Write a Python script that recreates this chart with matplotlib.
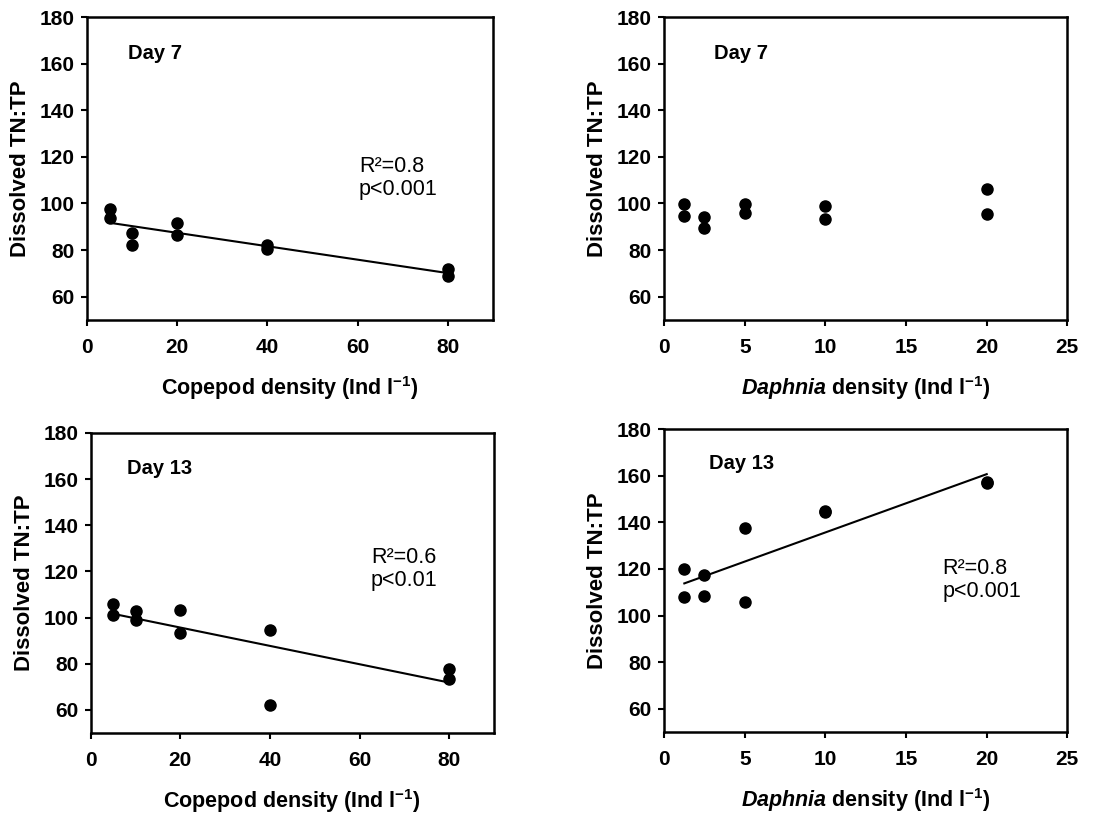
import numpy as np
import matplotlib
matplotlib.use('Agg')
import matplotlib.pyplot as plt

plt.rcParams['font.family'] = ['Liberation Sans', 'DejaVu Sans']
plt.rcParams['mathtext.fontset'] = 'custom'
plt.rcParams['mathtext.rm'] = 'Liberation Sans:bold'
plt.rcParams['mathtext.bf'] = 'Liberation Sans:bold'
plt.rcParams['mathtext.it'] = 'Liberation Sans:bold:italic'

# copepod density treatments (two replicates each)
cop_x = [5, 5, 10, 10, 20, 20, 40, 40, 80, 80]
cop_day7 = [97.6, 93.9, 87.1, 82.3, 91.7, 86.4, 82.1, 80.4, 71.7, 68.9]
cop_day13 = [106.0, 101.0, 102.7, 98.9, 103.3, 93.3, 94.6, 62.1, 77.7, 73.6]

# daphnia density treatments
daph_x = [1.25, 1.25, 2.5, 2.5, 5, 5, 10, 10, 20, 20]
daph_day7 = [99.6, 94.6, 94.3, 89.3, 99.6, 95.7, 98.9, 93.3, 106.3, 95.4]
daph_day13 = [119.9, 107.9, 117.4, 108.6, 137.6, 106.0, 144.3, 144.7, 157.0, 157.3]

cop_label = r'Copepod density (Ind l$^{\mathbf{-1}}$)'
daph_label = r'$\mathit{Daphnia}$ density (Ind l$^{\mathbf{-1}}$)'

fig = plt.figure(figsize=(11.2, 8.14), dpi=100)

panels = [
    # rect, x, y, xlim, xticks, xlabel, day text, day pos, stats text, stats pos, fit
    ([0.0777, 0.607, 0.3625, 0.372], cop_x, cop_day7, (0, 90), [0, 20, 40, 60, 80],
     cop_label, 'Day 7', (0.10, 0.88), 'R²=0.8\np<0.001', (0.67, 0.54), True),
    ([0.593, 0.607, 0.360, 0.372], daph_x, daph_day7, (0, 25), [0, 5, 10, 15, 20, 25],
     daph_label, 'Day 7', (0.124, 0.88), None, None, False),
    ([0.081, 0.0995, 0.360, 0.3686], cop_x, cop_day13, (0, 90), [0, 20, 40, 60, 80],
     cop_label, 'Day 13', (0.089, 0.88), 'R²=0.6\np<0.01', (0.695, 0.62), True),
    ([0.593, 0.1007, 0.360, 0.372], daph_x, daph_day13, (0, 25), [0, 5, 10, 15, 20, 25],
     daph_label, 'Day 13', (0.112, 0.888), 'R²=0.8\np<0.001', (0.69, 0.575), True),
]

for rect, x, y, xlim, xticks, xlabel, day, daypos, stats, statspos, fit in panels:
    ax = fig.add_axes(rect)
    ax.plot(x, y, 'o', color='black', markersize=8)
    if fit:
        # linear regression line over the sampled range
        m, b = np.polyfit(x, y, 1)
        xx = np.array([min(x), max(x)])
        ax.plot(xx, m * xx + b, color='black', linewidth=1.5)
    ax.set_xlim(xlim)
    ax.set_ylim(50, 180)
    ax.set_xticks(xticks)
    ax.set_yticks([60, 80, 100, 120, 140, 160, 180])
    for s in ax.spines.values():
        s.set_linewidth(1.8)
    ax.tick_params(direction='out', length=4, width=1.5, labelsize=15)
    ax.tick_params(axis='x', pad=9)
    ax.tick_params(axis='y', pad=5)
    for lab in ax.get_xticklabels() + ax.get_yticklabels():
        lab.set_fontweight('bold')
    ax.set_xlabel(xlabel, fontsize=15.5, fontweight='bold', labelpad=12)
    ax.set_ylabel('Dissolved TN:TP', fontsize=16, fontweight='bold', labelpad=6)
    ax.text(daypos[0], daypos[1], day, transform=ax.transAxes, fontsize=14.5,
            fontweight='bold', va='center', ha='left')
    if stats:
        ax.text(statspos[0], statspos[1], stats, transform=ax.transAxes,
                fontsize=15.5, va='top', ha='left', linespacing=1.1)

fig.savefig('out.png', dpi=100)
